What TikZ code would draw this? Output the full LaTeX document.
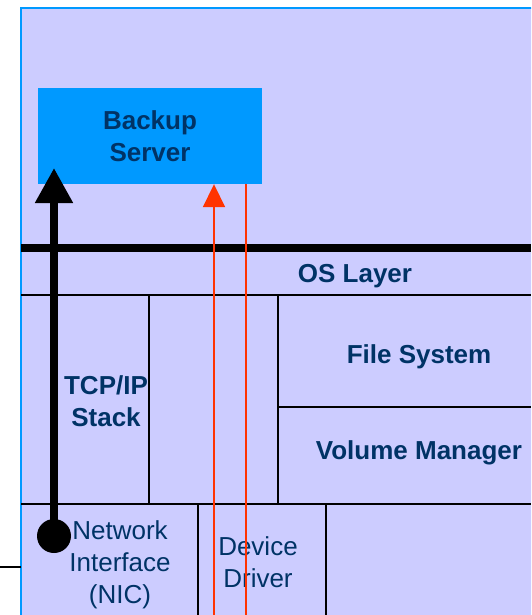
\documentclass[tikz,border=0pt]{standalone}
\usepackage{fontspec}
\setmainfont{Liberation Sans}
\usetikzlibrary{arrows.meta,positioning}
\definecolor{lav}{HTML}{CCCCFF}
\definecolor{srvblue}{HTML}{0099FF}
\definecolor{navy}{HTML}{003366}
\definecolor{flowred}{HTML}{FF3300}
\tikzset{
  lbl/.style={text=navy,font=\fontsize{26}{32}\selectfont,align=center,inner sep=0pt},
  blbl/.style={lbl,font=\fontsize{26}{32}\selectfont\bfseries},
  sep/.style={line width=2pt},
  redflow/.style={flowred,line width=1.8pt}
}
\begin{document}
\begin{tikzpicture}[x=1pt,y=-1pt]
\useasboundingbox (0,0) rectangle (531,615);
\clip (0,0) rectangle (531,615);

% host box
\draw[srvblue,fill=lav,line width=1.5pt] (21,8) rectangle (560,640);

% layers
\draw[line width=8pt] (21,248) -- (531,248);
\draw[sep] (21,295) -- (531,295);
\draw[sep] (149,295) -- (149,504);
\draw[sep] (278,295) -- (278,504);
\draw[sep] (278,407) -- (531,407);
\draw[sep] (21,504) -- (531,504);
\draw[sep] (198,504) -- (198,615);
\draw[sep] (326,504) -- (326,615);

\node[blbl,fill=srvblue,minimum width=224pt,minimum height=96pt] (backup) at (150,136) {Backup\\Server};
\node[blbl] (oslayer) at (355,276.5) {OS Layer};
\node[blbl] (tcpip) at (106,401.7) {TCP/IP\\Stack};
\node[blbl] (filesys) at (419,356.5) {File System};
\node[blbl] (volmgr) at (419,452.5) {Volume Manager};
\node[lbl] (nic) at (120,564.5) {Network\\Interface\\(NIC)};
\node[lbl] (driver) at (258,562) {Device\\Driver};

% network path
\coordinate (wire) at (0,567);
\coordinate (hostedge) at (21,567);
\draw[line width=1.5pt] (wire) -- (hostedge);
\node[circle,fill=black,minimum size=34pt,inner sep=0pt] (nicdot) at (54,536) {};
\coordinate (blacktip) at (54,168);
\draw[line width=8pt,-{Triangle[length=35pt,width=36pt]}] (nicdot.center) -- (blacktip);

% storage path
\coordinate (redfoot) at (214,615);
\coordinate (redfoottwo) at (246,615);
\draw[redflow,-{Triangle[length=23pt,width=22pt]}] (redfoot) -- (backup.south -| redfoot);
\draw[redflow] (backup.south -| redfoottwo) -- (redfoottwo);
\end{tikzpicture}
\end{document}
